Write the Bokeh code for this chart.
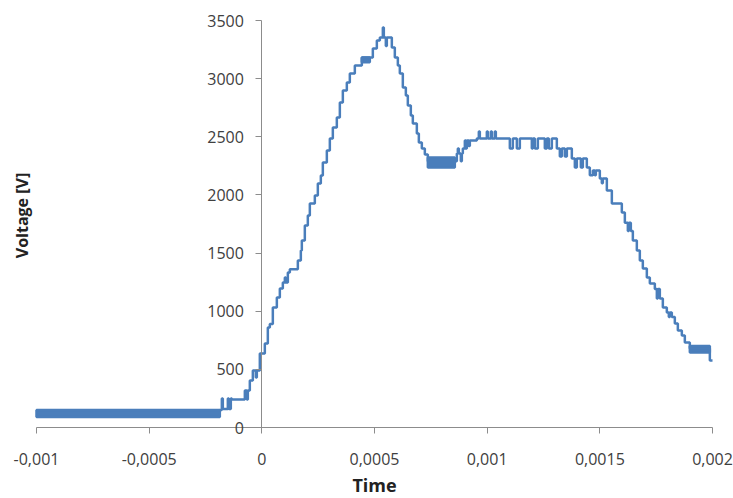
import math
from bokeh.plotting import figure
from bokeh.models import Range1d, FixedTicker, CustomJSTickFormatter, Label
from bokeh.embed import file_html
from bokeh.resources import INLINE

# ---- data (time in microseconds, voltage in V) ----
# level changes of the stepped signal (value holds until the next time)
step_time_us = [
    -186.4, -177.5, -173.1, -150.9, -146.5, -137.6, -133.1, -75.4, -66.6, -62.1,
    -53.3, -39.9, -26.6, -22.2, -8.9, 13.3, 26.6, 35.5, 48.8, 66.6,
    79.9, 93.2, 102.1, 106.5, 115.4, 124.3, 159.8, 173.1, 177.5, 190.8,
    204.1, 213.0, 235.2, 248.5, 261.8, 270.7, 288.5, 301.8, 315.1, 332.8,
    346.2, 359.5, 377.2, 390.5, 412.7, 443.8, 479.3, 492.6, 510.4, 523.7,
    537.0, 541.4, 550.3, 554.7, 576.9, 590.2, 603.6, 612.4, 625.7, 639.1,
    647.9, 661.2, 670.1, 687.9, 696.8, 710.1, 723.4, 736.7, 856.5, 865.4,
    869.8, 874.3, 883.1, 887.6, 892.0, 900.9, 905.3, 909.8, 918.6, 923.1,
    954.1, 963.0, 967.5, 998.5, 1003.0, 1016.3, 1020.7, 1034.0, 1038.5, 1100.6,
    1113.9, 1131.7, 1145.0, 1198.2, 1202.7, 1211.5, 1224.9, 1255.9, 1264.8, 1273.7,
    1287.0, 1309.2, 1322.5, 1331.4, 1344.7, 1353.6, 1375.7, 1389.1, 1397.9, 1415.7,
    1424.6, 1442.3, 1455.6, 1469.0, 1477.8, 1482.3, 1500.0, 1508.9, 1513.3, 1531.1,
    1553.3, 1597.6, 1611.0, 1624.3, 1628.7, 1637.6, 1646.5, 1664.2, 1677.5, 1690.8,
    1708.6, 1721.9, 1744.1, 1753.0, 1757.4, 1766.3, 1779.6, 1797.3, 1806.2, 1810.6,
    1819.5, 1832.8, 1846.2, 1863.9, 1877.2, 1899.4, 1988.2, 2000.0,
]
step_voltage = [
    150, 250, 160, 250, 160, 250, 240, 318, 240, 318,
    404, 490, 430, 490, 636, 722, 860, 890, 1032, 1118,
    1195, 1247, 1290, 1247, 1333, 1360, 1436, 1522, 1608, 1737,
    1823, 1926, 1995, 2098, 2167, 2279, 2382, 2485, 2580, 2666,
    2795, 2898, 2967, 3044, 3113, 3182, 3182, 3259, 3328, 3354,
    3440, 3354, 3280, 3354, 3268, 3182, 3113, 3044, 2924, 2855,
    2769, 2683, 2614, 2528, 2451, 2399, 2348, 2290, 2290, 2356,
    2400, 2356, 2290, 2356, 2400, 2468, 2400, 2468, 2420, 2468,
    2485, 2545, 2485, 2545, 2485, 2545, 2485, 2545, 2485, 2400,
    2485, 2400, 2485, 2400, 2485, 2400, 2485, 2400, 2485, 2400,
    2485, 2400, 2330, 2400, 2330, 2400, 2313, 2236, 2313, 2236,
    2313, 2236, 2170, 2210, 2170, 2210, 2141, 2100, 2141, 2038,
    1926, 1849, 1760, 1690, 1760, 1690, 1608, 1522, 1436, 1367,
    1290, 1238, 1190, 1110, 1190, 1110, 1032, 990, 950, 990,
    950, 894, 834, 791, 731, 680, 576, 576,
]
# stretches where the signal toggles densely between two levels (noise bands)
band_start_us = [-1000.0, 443.8, 736.7, 1899.4]
band_end_us = [-186.4, 479.3, 856.5, 1988.2]
band_low = [90, 3140, 2236, 645]
band_high = [150, 3182, 2322, 700]

x_ticks = [-0.001, -0.0005, 0, 0.0005, 0.001, 0.0015, 0.002]
y_ticks = [0, 500, 1000, 1500, 2000, 2500, 3000, 3500]
X_MIN, X_MAX = -0.001, 0.002
Y_MIN, Y_MAX = 0, 3500

BLUE = "#4a7ebb"
AXIS = "#8c8c8c"
TEXT = "#404040"
FONT = "Open Sans"

# ---- layout (pixels) ----
W, H = 733, 498
PLOT_L, PLOT_R, PLOT_T, PLOT_B = 36, 712, 20, 427   # where the data area sits
kx = (X_MAX - X_MIN) / (PLOT_R - PLOT_L)
ky = (Y_MAX - Y_MIN) / (PLOT_B - PLOT_T)
x_range = Range1d(X_MIN - PLOT_L * kx, X_MAX + (W - PLOT_R) * kx)
y_range = Range1d(Y_MIN - (H - PLOT_B) * ky, Y_MAX + PLOT_T * ky)

step_time = [t * 1e-6 for t in step_time_us]
band_start = [t * 1e-6 for t in band_start_us]
band_end = [t * 1e-6 for t in band_end_us]

p = figure(width=W, height=H, output_backend="svg", toolbar_location=None,
           title=None, x_range=x_range, y_range=y_range,
           min_border_left=0, min_border_right=0, min_border_top=0,
           min_border_bottom=0)
p.outline_line_color = None
p.grid.visible = False
p.background_fill_color = "white"

p.quad(left=band_start, right=band_end, bottom=band_low, top=band_high,
       fill_color=BLUE, line_color=BLUE, line_width=2.5)
p.step(x=step_time, y=step_voltage, mode="after", line_color=BLUE, line_width=2.5)

for ax in (p.xaxis[0], p.yaxis[0]):
    ax.axis_line_color = AXIS
    ax.major_tick_line_color = AXIS
    ax.minor_tick_line_color = None
    ax.major_tick_out = 6
    ax.major_tick_in = 0
    ax.major_label_text_font = FONT
    ax.major_label_text_font_size = "16px"
    ax.major_label_text_color = TEXT

xa = p.xaxis[0]
xa.fixed_location = Y_MIN
xa.bounds = (X_MIN, X_MAX)
xa.ticker = FixedTicker(ticks=x_ticks)
xa.formatter = CustomJSTickFormatter(code="return tick.toString().replace('.', ',');")
xa.major_label_standoff = 19
xa.axis_label = "Time"
xa.axis_label_text_font = FONT
xa.axis_label_text_font_style = "bold"
xa.axis_label_text_font_size = "18px"
xa.axis_label_text_color = "#222222"
xa.axis_label_standoff = 5

ya = p.yaxis[0]
ya.fixed_location = 0
ya.bounds = (Y_MIN, Y_MAX)
ya.ticker = FixedTicker(ticks=y_ticks)
ya.major_label_standoff = 12

ylab_x = X_MIN - (PLOT_L - 21) * kx
ylab_y = Y_MAX - (215 - PLOT_T) * ky
p.add_layout(Label(x=ylab_x, y=ylab_y, text="Voltage [V]", angle=math.pi / 2,
                   text_align="center", text_baseline="middle",
                   text_font=FONT, text_font_size="16px",
                   text_font_style="bold", text_color="#222222"))

open("out.html", "w").write(file_html(p, INLINE))
